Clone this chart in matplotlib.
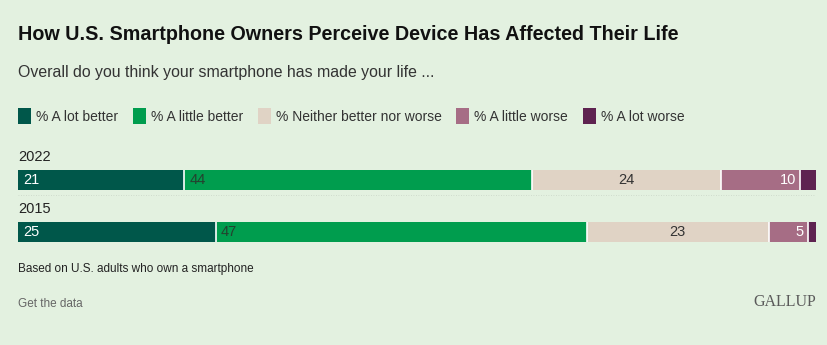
import matplotlib.pyplot as plt
from matplotlib.patches import Patch

years = ["2022", "2015"]
categories = ["% A lot better", "% A little better", "% Neither better nor worse",
              "% A little worse", "% A lot worse"]
a_lot_better = [21, 25]
a_little_better = [44, 47]
neither = [24, 23]
a_little_worse = [10, 5]
a_lot_worse = [2, 1]

colors = ["#00574a", "#009d4e", "#e0d3c5", "#a66d85", "#5e2350"]
label_colors = ["white", "#24422f", "#333333", "white", None]
label_align = ["left", "left", "center", "right", None]

bg = "#e3f1e0"
plt.rcParams["font.family"] = ["Liberation Sans", "DejaVu Sans"]

W, H = 828, 345
fig = plt.figure(figsize=(W / 100, H / 100), dpi=100, facecolor=bg)

# axes spans pixel rows 154..258, bar centres at data y 0 and 1
ax = fig.add_axes([18 / W, 1 - 258 / H, 798 / W, 104 / H])
ax.set_facecolor(bg)
series = [a_lot_better, a_little_better, neither, a_little_worse, a_lot_worse]
total = max(sum(s[i] for s in series) for i in range(len(years)))
ypos = list(range(len(years)))
bar_h = 20 / 52
left = [0] * len(years)
for k, vals in enumerate(series):
    ax.barh(ypos, vals, left=left, height=bar_h, color=colors[k], edgecolor="none")
    if label_colors[k] is not None:
        for i, v in enumerate(vals):
            if label_align[k] == "left":
                x, dx = left[i], 4
            elif label_align[k] == "center":
                x, dx = left[i] + v / 2, 0
            else:
                x, dx = left[i] + v, -3
            ax.annotate(str(v), (x, i), xytext=(dx, 0), textcoords="offset points",
                        ha=label_align[k], va="center", fontsize=10.5,
                        color=label_colors[k])
    left = [l + v for l, v in zip(left, vals)]
    # white gap after each inner segment
    if k < len(series) - 1:
        for i in ypos:
            ax.vlines(left[i], i - bar_h / 2, i + bar_h / 2, color="white", lw=1.2)

for i, y in enumerate(years):
    ax.text(0, i - 0.44, y, ha="left", va="center", fontsize=10.5, color="#222222")
ax.plot([0, total], [0.29, 0.29], ls=(0, (1, 2)), lw=0.6, color="#c8d4c6")

ax.set_xlim(0, total)
ax.set_ylim(1.5, -0.5)
ax.axis("off")

fig.text(18 / W, 1 - 34 / H, "How U.S. Smartphone Owners Perceive Device Has Affected Their Life",
         ha="left", va="center", fontsize=14.2, fontweight="bold", color="#111111")
fig.text(18 / W, 1 - 73 / H, "Overall do you think your smartphone has made your life ...",
         ha="left", va="center", fontsize=11.4, color="#333333")

handles = [Patch(facecolor=c, edgecolor="none") for c in colors]
fig.legend(handles, categories, loc="center left", bbox_to_anchor=(18 / W, 1 - 116 / H),
           ncol=5, frameon=False, fontsize=10, handlelength=0.95, handleheight=1.35,
           handletextpad=0.35, columnspacing=1.05, labelcolor="#333333",
           borderpad=0, borderaxespad=0)

fig.text(18 / W, 1 - 269 / H, "Based on U.S. adults who own a smartphone",
         ha="left", va="center", fontsize=8.5, color="#222222",
         family=["Liberation Sans Narrow", "Liberation Sans"])
fig.text(18 / W, 1 - 304 / H, "Get the data", ha="left", va="center", fontsize=8.5,
         color="#666666", family=["Liberation Sans Narrow", "Liberation Sans"])
fig.text(816 / W, 1 - 302 / H, "GALLUP", ha="right", va="center", fontsize=11.5,
         color="#5a5a5a", family=["Liberation Serif", "DejaVu Serif"])

fig.savefig("out.png", dpi=100, facecolor=bg)
